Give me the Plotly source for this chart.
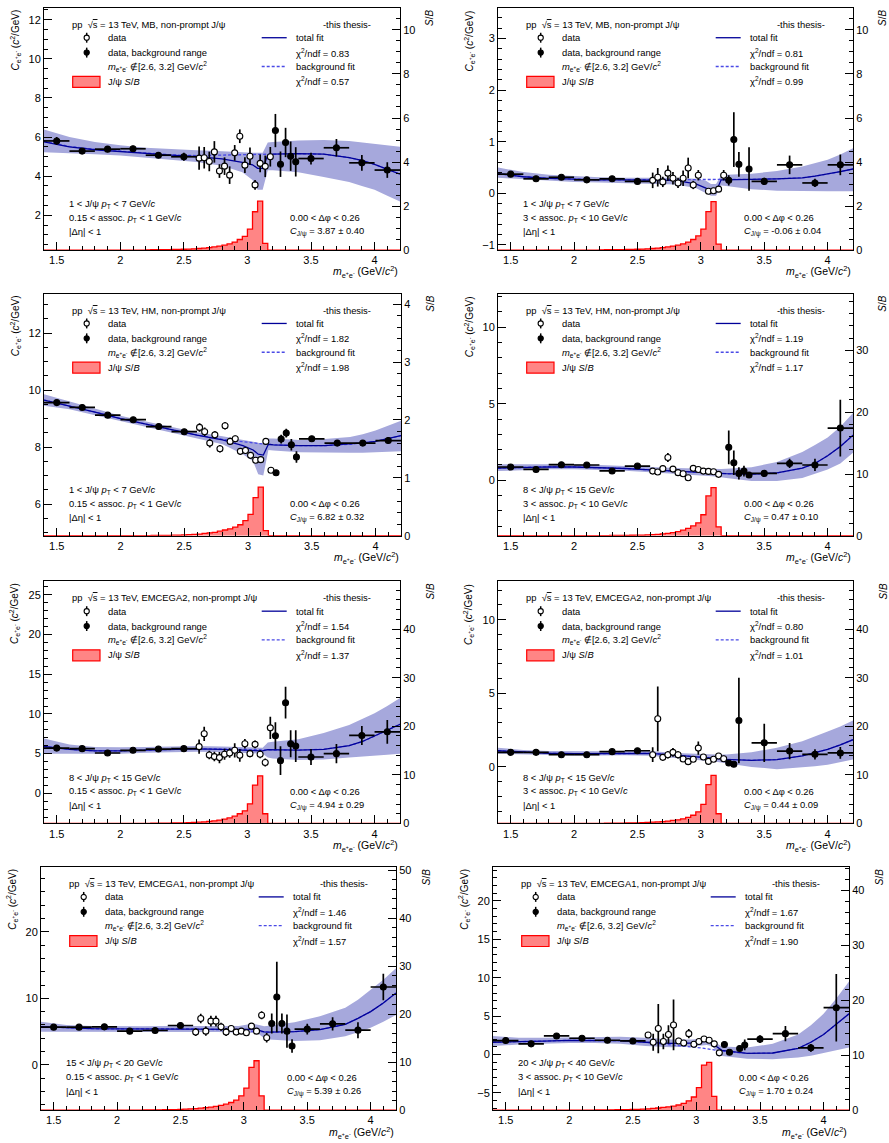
import plotly.graph_objects as go

W, H = 889, 1143
FONT = "Liberation Sans, Arial, Helvetica, sans-serif"

# ---------------------------------------------------------------- binning
# invariant-mass bin centres and half widths (GeV/c^2)
MASS = [1.5, 1.7, 1.9, 2.1, 2.3, 2.5,
        2.62, 2.66, 2.70, 2.74, 2.78, 2.82, 2.86, 2.90, 2.94, 2.98,
        3.02, 3.06, 3.10, 3.14, 3.18, 3.22, 3.26, 3.30, 3.34, 3.38,
        3.5, 3.7, 3.9, 4.1]
MASS_HALF = [0.1, 0.1, 0.1, 0.1, 0.1, 0.1,
             0.02, 0.02, 0.02, 0.02, 0.02, 0.02, 0.02, 0.02, 0.02, 0.02,
             0.02, 0.02, 0.02, 0.02, 0.02, 0.02, 0.02, 0.02, 0.02, 0.02,
             0.1, 0.1, 0.1, 0.1]
SIGNAL_WINDOW = (2.6, 3.2)

# mass points at which the fit functions are sampled
KNOT_M = [1.4, 1.6, 1.8, 2.0, 2.2, 2.4, 2.6, 2.8, 2.96, 3.04, 3.08, 3.12,
          3.16, 3.2, 3.4, 3.6, 3.8, 3.9, 4.0, 4.1, 4.2]

# S/B histogram: lower bin edges, fixed width
SB_BIN_LO = [2.20, 2.24, 2.28, 2.32, 2.36, 2.40, 2.44, 2.48, 2.52, 2.56, 2.60, 2.64,
             2.68, 2.72, 2.76, 2.80, 2.84, 2.88, 2.92, 2.96, 3.00, 3.04, 3.08, 3.12]
SB_BIN_W = 0.04

# ---------------------------------------------------------------- MB, low assoc pT
P1_C = [5.80, 5.28, 5.38, 5.40, 5.07, 4.99, 4.92, 4.94, 4.75, 5.24, 4.26, 4.51, 4.05, 5.19, 6.04,
        4.56, 5.02, 3.55, 4.65, 4.50, 4.99, 6.33, 4.61, 5.72, 5.02, 4.73, 4.90, 5.45, 4.68, 4.31]
P1_ERR = [0.20, 0.15, 0.15, 0.15, 0.15, 0.20, 0.60, 0.55, 0.50, 0.55, 0.35, 0.45, 0.45, 0.40, 0.35,
          0.40, 0.45, 0.25, 0.45, 0.55, 0.50, 0.85, 0.65, 0.75, 0.75, 0.75, 0.30, 0.45, 0.40, 0.40]
P1_FIT = [5.75, 5.50, 5.35, 5.25, 5.15, 5.07, 5.00, 4.88, 4.70, 4.58, 4.40, 4.40, 5.08, 5.12, 5.15,
          5.12, 4.95, 4.80, 4.60, 4.35, 4.10]
P1_BKG = [5.78, 5.52, 5.37, 5.27, 5.17, 5.09, 5.05, 5.08, 5.10, 5.11, 5.12, 5.12, 5.13, 5.14, 5.15,
          5.12, 4.95, 4.80, 4.60, 4.35, 4.10]
P1_HI = [6.38, 6.00, 5.75, 5.58, 5.45, 5.37, 5.32, 5.27, 5.20, 5.20, 5.20, 5.20, 5.72, 5.75, 5.82,
         5.85, 5.80, 5.72, 5.65, 5.55, 5.50]
P1_LO = [5.22, 5.18, 5.12, 5.05, 4.95, 4.85, 4.72, 4.53, 4.20, 3.80, 3.30, 3.30, 4.30, 4.30, 4.20,
         3.95, 3.70, 3.50, 3.30, 3.00, 2.70]
P1_SB = [0.010, 0.012, 0.015, 0.018, 0.020, 0.025, 0.030, 0.035, 0.045, 0.055, 0.07, 0.09,
         0.11, 0.14, 0.18, 0.22, 0.28, 0.36, 0.48, 0.62, 0.95, 1.74, 2.22, 0.30]

# ---------------------------------------------------------------- MB, high assoc pT
P2_C = [0.37, 0.28, 0.31, 0.26, 0.28, 0.23, 0.25, 0.31, 0.22, 0.39, 0.29, 0.20, 0.29, 0.49, 0.16,
        0.35, None, 0.04, 0.05, 0.08, 0.35, 0.25, 1.04, 0.56, None, 0.47, 0.23, 0.55, 0.20, 0.55]
P2_ERR = [0.05, 0.04, 0.04, 0.04, 0.04, 0.05, 0.15, 0.18, 0.10, 0.15, 0.12, 0.10, 0.15, 0.20, 0.08,
          0.10, None, 0.04, 0.04, 0.05, 0.10, 0.10, 0.53, 0.24, None, 0.42, 0.07, 0.18, 0.08, 0.20]
P2_FIT = [0.38, 0.32, 0.29, 0.27, 0.26, 0.26, 0.26, 0.25, 0.18, 0.10, 0.03, 0.03, 0.26, 0.26, 0.27,
          0.28, 0.30, 0.33, 0.37, 0.42, 0.47]
P2_BKG = [0.38, 0.32, 0.29, 0.27, 0.26, 0.26, 0.26, 0.26, 0.27, 0.27, 0.27, 0.27, 0.27, 0.27, 0.27,
          0.28, 0.30, 0.33, 0.37, 0.42, 0.47]
P2_HI = [0.50, 0.41, 0.36, 0.33, 0.31, 0.30, 0.30, 0.30, 0.28, 0.24, 0.18, 0.18, 0.35, 0.36, 0.38,
         0.43, 0.52, 0.58, 0.65, 0.75, 0.87]
P2_LO = [0.30, 0.27, 0.24, 0.22, 0.21, 0.20, 0.19, 0.17, 0.10, 0.00, -0.05, -0.05, 0.15, 0.14, 0.08,
         0.05, 0.04, 0.04, 0.04, 0.04, 0.04]
P2_SB = [0.010, 0.012, 0.015, 0.018, 0.020, 0.025, 0.030, 0.035, 0.045, 0.055, 0.07, 0.09,
         0.11, 0.14, 0.18, 0.22, 0.28, 0.36, 0.48, 0.64, 0.95, 1.75, 2.20, 0.27]

# ---------------------------------------------------------------- HM, low assoc pT
P3_C = [9.56, 9.39, 9.12, 8.96, 8.72, 8.54, 8.69, 8.54, 8.14, 8.43, 7.94, 8.75, 8.20, 8.29, 7.85,
        7.88, 7.71, 7.54, 7.56, 8.20, 7.19, 7.10, 8.28, 8.49, 8.08, 7.65, 8.29, 8.14, 8.14, 8.23]
P3_ERR = [0.07, 0.07, 0.07, 0.07, 0.07, 0.08, 0.15, 0.15, 0.15, 0.13, 0.13, 0.13, 0.13, 0.12, 0.12,
          0.12, 0.12, 0.10, 0.10, 0.10, 0.10, 0.10, 0.15, 0.15, 0.20, 0.20, 0.07, 0.10, 0.10, 0.12]
P3_FIT = [9.65, 9.45, 9.23, 9.00, 8.80, 8.60, 8.42, 8.25, 8.05, 7.90, 7.75, 7.72, 8.10, 8.08, 8.05,
          8.05, 8.10, 8.15, 8.20, 8.30, 8.40]
P3_BKG = [9.65, 9.45, 9.23, 9.00, 8.80, 8.60, 8.42, 8.27, 8.18, 8.14, 8.12, 8.11, 8.10, 8.08, 8.05,
          8.05, 8.10, 8.15, 8.20, 8.30, 8.40]
P3_HI = [9.85, 9.60, 9.35, 9.10, 8.90, 8.70, 8.52, 8.38, 8.25, 8.20, 8.15, 8.12, 8.30, 8.30, 8.25,
         8.28, 8.35, 8.45, 8.58, 8.75, 8.92]
P3_LO = [9.45, 9.33, 9.12, 8.92, 8.72, 8.52, 8.32, 8.10, 7.75, 7.50, 7.05, 7.00, 7.90, 7.88, 7.82,
         7.80, 7.80, 7.80, 7.82, 7.83, 7.85]
P3_SB = [0.004, 0.005, 0.006, 0.007, 0.008, 0.010, 0.012, 0.015, 0.020, 0.025, 0.03, 0.04,
         0.05, 0.06, 0.08, 0.10, 0.12, 0.15, 0.19, 0.26, 0.37, 0.66, 0.84, 0.09]

# ---------------------------------------------------------------- HM, high assoc pT
P4_C = [0.87, 0.71, 1.02, 1.00, 0.61, 0.93, 0.60, 0.54, 0.76, 1.49, 0.73, 0.50, 0.43, 0.17, 0.78,
        0.71, 0.60, 0.58, 0.56, 0.39, None, 2.15, 1.15, 0.45, 0.60, 0.35, 0.45, 1.10, 1.00, 3.41]
P4_ERR = [0.05, 0.05, 0.06, 0.06, 0.06, 0.07, 0.12, 0.15, 0.20, 0.30, 0.15, 0.10, 0.08, 0.06, 0.10,
          0.08, 0.08, 0.07, 0.07, 0.07, None, 1.10, 0.80, 0.40, 0.35, 0.20, 0.15, 0.30, 0.40, 1.85]
P4_FIT = [0.80, 0.85, 0.88, 0.87, 0.83, 0.77, 0.68, 0.60, 0.54, 0.50, 0.48, 0.47, 0.45, 0.43, 0.40,
          0.48, 0.80, 1.10, 1.60, 2.20, 2.95]
P4_BKG = [0.80, 0.85, 0.88, 0.87, 0.83, 0.77, 0.68, 0.60, 0.54, 0.50, 0.48, 0.47, 0.45, 0.43, 0.40,
          0.48, 0.80, 1.10, 1.60, 2.20, 2.95]
P4_HI = [1.05, 1.05, 1.06, 1.05, 1.00, 0.95, 0.87, 0.80, 0.75, 0.72, 0.72, 0.72, 0.73, 0.75, 0.85,
         1.20, 1.85, 2.30, 2.80, 3.50, 4.40]
P4_LO = [0.60, 0.68, 0.72, 0.72, 0.68, 0.62, 0.52, 0.42, 0.35, 0.30, 0.28, 0.25, 0.20, 0.15, -0.05,
         -0.05, 0.15, 0.40, 0.70, 1.10, 1.80]
P4_SB = [0.03, 0.035, 0.04, 0.05, 0.06, 0.07, 0.08, 0.10, 0.12, 0.15, 0.19, 0.24,
         0.30, 0.38, 0.50, 0.68, 0.90, 1.20, 1.60, 2.10, 3.40, 6.45, 7.80, 1.45]

# ---------------------------------------------------------------- EMCEGA2, low assoc pT
P5_C = [5.70, 5.63, 5.08, 5.42, 5.58, 5.63, 5.88, 7.50, 4.83, 4.63, 4.50, 4.92, 5.08, 5.42, 4.79,
        6.25, 5.00, 6.17, 4.92, 3.88, 8.25, 7.25, 4.12, 11.42, 6.25, 5.96, 4.58, 5.00, 7.29, 7.75]
P5_ERR = [0.30, 0.25, 0.25, 0.25, 0.25, 0.30, 0.90, 0.90, 0.55, 0.60, 0.70, 0.70, 0.60, 0.90, 0.80,
          0.60, 0.45, 0.50, 0.50, 0.50, 1.40, 1.70, 1.80, 2.00, 1.70, 2.00, 1.00, 1.20, 1.20, 1.50]
P5_FIT = [5.90, 5.55, 5.35, 5.35, 5.45, 5.55, 5.60, 5.55, 5.45, 5.40, 5.35, 5.35, 5.50, 5.50, 5.45,
          5.55, 6.00, 6.50, 7.20, 7.90, 8.70]
P5_BKG = [5.90, 5.55, 5.35, 5.35, 5.45, 5.55, 5.60, 5.58, 5.50, 5.47, 5.46, 5.46, 5.46, 5.46, 5.45,
          5.55, 6.00, 6.50, 7.20, 7.90, 8.70]
P5_HI = [6.90, 6.15, 5.85, 5.80, 5.85, 5.90, 5.95, 5.90, 5.80, 5.75, 5.75, 5.75, 6.40, 6.50, 6.80,
         7.60, 8.60, 9.30, 10.10, 11.00, 12.00]
P5_LO = [5.00, 5.00, 4.95, 5.00, 5.10, 5.20, 5.25, 5.20, 5.10, 5.05, 5.00, 5.00, 4.50, 4.40, 4.20,
         4.25, 4.50, 4.60, 4.70, 4.85, 5.00]
P5_SB = [0.04, 0.05, 0.06, 0.07, 0.08, 0.10, 0.12, 0.14, 0.17, 0.21, 0.26, 0.33,
         0.42, 0.55, 0.70, 0.90, 1.15, 1.50, 2.00, 2.60, 4.05, 7.90, 9.80, 2.00]

# ---------------------------------------------------------------- EMCEGA2, high assoc pT
P6_C = [0.99, 0.99, 0.83, 0.83, 1.04, 1.10, 0.83, 3.27, 0.65, 0.83, 0.99, 0.83, 0.54, 0.36, 0.52,
        1.28, 0.68, 0.38, 0.52, 0.74, 0.56, 0.27, 0.18, 3.15, None, None, 1.64, 1.08, 0.86, 0.95]
P6_ERR = [0.10, 0.08, 0.08, 0.08, 0.08, 0.10, 0.50, 2.20, 0.20, 0.25, 0.30, 0.25, 0.20, 0.15, 0.15,
          0.45, 0.15, 0.10, 0.10, 0.15, 0.20, 0.15, 0.12, 2.90, None, None, 1.30, 0.55, 0.35, 0.40]
P6_FIT = [1.10, 1.00, 0.93, 0.90, 0.92, 0.95, 0.92, 0.80, 0.70, 0.65, 0.60, 0.58, 0.55, 0.52, 0.45,
          0.50, 0.75, 0.95, 1.20, 1.50, 1.85]
P6_BKG = [1.10, 1.00, 0.93, 0.90, 0.92, 0.95, 0.92, 0.80, 0.70, 0.65, 0.60, 0.58, 0.55, 0.52, 0.45,
          0.50, 0.75, 0.95, 1.20, 1.50, 1.85]
P6_HI = [1.30, 1.15, 1.08, 1.05, 1.07, 1.10, 1.08, 0.95, 0.88, 0.85, 0.85, 0.85, 0.85, 0.85, 1.00,
         1.30, 1.75, 2.05, 2.40, 2.75, 3.15]
P6_LO = [0.90, 0.85, 0.80, 0.78, 0.78, 0.80, 0.76, 0.62, 0.50, 0.45, 0.40, 0.35, 0.30, 0.25, 0.00,
         -0.15, -0.05, 0.05, 0.15, 0.30, 0.50]
P6_SB = [0.04, 0.05, 0.06, 0.07, 0.08, 0.10, 0.12, 0.14, 0.17, 0.21, 0.26, 0.32,
         0.40, 0.50, 0.62, 0.75, 0.95, 1.25, 1.70, 2.40, 3.95, 8.00, 9.90, 2.00]

# ---------------------------------------------------------------- EMCEGA1, low assoc pT
P7_C = [5.67, 5.67, 5.72, 5.07, 5.17, 5.92, 4.93, 6.97, 5.07, 6.57, 6.57, 5.72, 4.93, 5.47, 4.93,
        5.07, 4.83, 5.82, 5.07, 7.46, 4.08, 6.22, 10.20, 6.22, 5.07, 2.84, 5.37, 6.17, 5.22, 11.70]
P7_ERR = [0.30, 0.25, 0.25, 0.25, 0.30, 0.40, 0.60, 0.70, 0.70, 0.80, 0.80, 0.60, 0.60, 0.50, 0.40,
          0.40, 0.40, 0.30, 0.30, 0.60, 0.70, 1.50, 5.30, 1.50, 2.50, 1.00, 0.80, 1.00, 1.20, 2.00]
P7_FIT = [5.75, 5.55, 5.45, 5.40, 5.40, 5.45, 5.45, 5.40, 5.35, 5.40, 5.35, 5.20, 4.95, 4.93, 5.00,
          5.30, 6.10, 7.00, 8.00, 9.30, 10.80]
P7_BKG = [5.75, 5.55, 5.45, 5.40, 5.40, 5.43, 5.40, 5.30, 5.20, 5.10, 5.05, 5.00, 4.97, 4.93, 5.00,
          5.30, 6.10, 7.00, 8.00, 9.30, 10.80]
P7_HI = [6.50, 6.00, 5.85, 5.80, 5.80, 5.85, 5.85, 5.80, 5.85, 6.10, 6.15, 6.00, 5.80, 5.90, 6.40,
         7.30, 8.60, 9.80, 11.30, 12.80, 14.50]
P7_LO = [5.00, 5.00, 4.98, 4.95, 4.95, 5.00, 5.00, 4.95, 4.85, 4.85, 4.80, 4.60, 4.00, 3.80, 3.60,
         3.70, 4.30, 4.90, 5.60, 6.50, 7.50]
P7_SB = [0.05, 0.06, 0.07, 0.08, 0.10, 0.12, 0.14, 0.17, 0.21, 0.26, 0.33, 0.42,
         0.52, 0.65, 0.80, 1.00, 1.25, 1.60, 2.10, 3.00, 4.60, 8.90, 10.30, 3.00]

# ---------------------------------------------------------------- EMCEGA1, high assoc pT
P8_C = [1.82, 1.39, 2.42, 2.12, 1.86, 1.77, 2.55, 1.60, 3.38, 1.69, 2.60, 3.85, 1.77, 1.50, 2.72,
        1.34, 1.69, 2.03, 1.86, 1.39, 0.22, 1.30, 0.30, None, 0.78, 1.25, 2.00, 2.72, 0.87, 6.10]
P8_ERR = [0.30, 0.25, 0.30, 0.25, 0.25, 0.25, 0.40, 1.10, 3.20, 1.00, 1.20, 3.30, 0.40, 0.40, 0.60,
          0.40, 0.30, 0.30, 0.30, 0.30, 0.10, 0.40, 0.20, None, 0.30, 0.70, 0.50, 1.00, 0.50, 4.40]
P8_FIT = [1.60, 1.65, 1.75, 1.85, 1.85, 1.80, 1.60, 1.45, 1.50, 1.70, 1.75, 1.50, 1.00, 0.55, 0.15,
          0.20, 0.80, 1.60, 2.60, 3.90, 5.30]
P8_BKG = [1.60, 1.65, 1.75, 1.85, 1.85, 1.80, 1.60, 1.30, 1.00, 0.85, 0.75, 0.65, 0.55, 0.45, 0.15,
          0.20, 0.80, 1.60, 2.60, 3.90, 5.30]
P8_HI = [2.40, 2.20, 2.20, 2.25, 2.30, 2.30, 2.20, 1.95, 1.95, 2.10, 2.10, 1.90, 1.50, 1.05, 0.90,
         1.40, 2.60, 3.80, 5.30, 7.30, 9.50]
P8_LO = [1.10, 1.30, 1.40, 1.50, 1.50, 1.40, 1.10, 0.95, 1.05, 1.20, 1.25, 1.10, 0.50, -0.20, -0.55,
         -0.60, -0.40, -0.15, 0.20, 0.50, 0.90]
P8_SB = [0.04, 0.05, 0.06, 0.07, 0.08, 0.10, 0.12, 0.14, 0.17, 0.21, 0.26, 0.32,
         0.40, 0.50, 0.62, 0.75, 0.95, 1.25, 1.70, 2.40, 4.10, 8.20, 8.70, 2.50]

# ---------------------------------------------------------------- labels
TRIGGERS = ["MB", "MB", "HM", "HM", "EMCEGA2", "EMCEGA2", "EMCEGA1", "EMCEGA1"]
JPSI_PT = [(1, 7), (1, 7), (1, 7), (8, 15), (8, 15), (8, 15), (15, 20), (20, 40)]
ASSOC_PT = ["0.15", "3", "0.15", "3", "0.15", "3", "0.15", "3"]
ASSOC_PT_MAX = ["1", "10", "1", "10", "1", "10", "1", "10"]
CHI2_TOTAL = ["0.83", "0.81", "1.82", "1.19", "1.54", "0.80", "1.46", "1.67"]
CHI2_BKG = ["0.57", "0.99", "1.98", "1.17", "1.37", "1.01", "1.57", "1.90"]
C_JPSI = ["3.87 ± 0.40", "-0.06 ± 0.04", "6.82 ± 0.32", "0.47 ± 0.10",
          "4.94 ± 0.29", "0.44 ± 0.09", "5.39 ± 0.26", "1.70 ± 0.24"]

# ---------------------------------------------------------------- layout of the pads (pixels)
FRAMES = [(44, 5, 400, 249), (498, 5, 853, 249),
          (44, 293, 401, 537), (498, 293, 853, 537),
          (44, 583, 400, 827), (498, 583, 853, 827),
          (41, 871, 396, 1116), (493, 871, 849, 1116)]
LEFT_RANGE = [(0.22, 12.6), (-1.1, 3.59), (4.89, 13.38), (-3.62, 12.18),
              (-3.8, 26.7), (-3.84, 12.6), (-6.8, 29.7), (-7.25, 24.4)]
LEFT_TICKS = [(2, 0.5), (1, 0.2), (2, 0.5), (5, 1), (5, 1), (5, 1), (10, 2), (5, 1)]
RIGHT_RANGE = [(0, 11), (0, 11), (0, 4.18), (0, 39.2), (0, 49.8), (0, 49.8), (0, 50.6), (0, 44.2)]
RIGHT_TICKS = [(2, 0.5), (2, 0.5), (1, 0.2), (10, 2), (10, 2), (10, 2), (10, 2), (10, 2)]

PANELS = [
    dict(c=P1_C, err=P1_ERR, fit=P1_FIT, bkg=P1_BKG, hi=P1_HI, lo=P1_LO, sb=P1_SB),
    dict(c=P2_C, err=P2_ERR, fit=P2_FIT, bkg=P2_BKG, hi=P2_HI, lo=P2_LO, sb=P2_SB),
    dict(c=P3_C, err=P3_ERR, fit=P3_FIT, bkg=P3_BKG, hi=P3_HI, lo=P3_LO, sb=P3_SB),
    dict(c=P4_C, err=P4_ERR, fit=P4_FIT, bkg=P4_BKG, hi=P4_HI, lo=P4_LO, sb=P4_SB),
    dict(c=P5_C, err=P5_ERR, fit=P5_FIT, bkg=P5_BKG, hi=P5_HI, lo=P5_LO, sb=P5_SB),
    dict(c=P6_C, err=P6_ERR, fit=P6_FIT, bkg=P6_BKG, hi=P6_HI, lo=P6_LO, sb=P6_SB),
    dict(c=P7_C, err=P7_ERR, fit=P7_FIT, bkg=P7_BKG, hi=P7_HI, lo=P7_LO, sb=P7_SB),
    dict(c=P8_C, err=P8_ERR, fit=P8_FIT, bkg=P8_BKG, hi=P8_HI, lo=P8_LO, sb=P8_SB),
]

BAND = "#a6a8dc"
FIT_COL = "#000099"
BKG_COL = "#4a4ae6"
HIST_LINE = "#ff0000"
HIST_FILL = "rgba(255,0,0,0.48)"
EE = "e<sup>+</sup>e<sup>-</sup>"


def px(x):
    return x / W


def py(y):
    return 1 - y / H


fig = go.Figure()
shapes, annotations = [], []
layout = {}

for k, p in enumerate(PANELS):
    i = k + 1
    xa = "x" if i == 1 else f"x{i}"
    yl = "y" if i == 1 else f"y{2 * i - 1}"
    yr = f"y{2 * i}"
    fx0, fy0, fx1, fy1 = FRAMES[k]

    # fit uncertainty band
    fig.add_trace(go.Scatter(x=KNOT_M, y=p["lo"], mode="lines", line=dict(width=0),
                             xaxis=xa, yaxis=yl, showlegend=False, hoverinfo="skip"))
    fig.add_trace(go.Scatter(x=KNOT_M, y=p["hi"], mode="lines", line=dict(width=0),
                             fill="tonexty", fillcolor=BAND,
                             xaxis=xa, yaxis=yl, showlegend=False, hoverinfo="skip"))
    # background and total fits
    fig.add_trace(go.Scatter(x=KNOT_M, y=p["bkg"], mode="lines",
                             line=dict(color=BKG_COL, width=1.3, dash="3px,2px"),
                             xaxis=xa, yaxis=yl, showlegend=False))
    fig.add_trace(go.Scatter(x=KNOT_M, y=p["fit"], mode="lines",
                             line=dict(color=FIT_COL, width=1.3),
                             xaxis=xa, yaxis=yl, showlegend=False))

    # data points: open inside the signal window, filled outside
    for inside in (True, False):
        xs, ys, ex, ey = [], [], [], []
        for m, hw, c, e in zip(MASS, MASS_HALF, p["c"], p["err"]):
            if c is None:
                continue
            if (SIGNAL_WINDOW[0] < m < SIGNAL_WINDOW[1]) != inside:
                continue
            xs.append(m)
            ys.append(c)
            ex.append(hw)
            ey.append(e)
        fig.add_trace(go.Scatter(
            x=xs, y=ys, mode="markers",
            marker=dict(symbol="circle", size=6,
                        color="white" if inside else "black",
                        line=dict(color="black", width=1.1)),
            error_y=dict(type="data", array=ey, thickness=1.7, width=0, color="black"),
            error_x=dict(type="data", array=ex, thickness=1.7, width=0, color="black"),
            xaxis=xa, yaxis=yl, showlegend=False))

    # S/B histogram on the right-hand axis
    hx = [1.4] + SB_BIN_LO + [SB_BIN_LO[-1] + SB_BIN_W, 4.2]
    hy = [0] + p["sb"] + [0, 0]
    fig.add_trace(go.Scatter(x=hx, y=hy, mode="lines", line_shape="hv",
                             line=dict(color=HIST_LINE, width=1.3),
                             fill="tozeroy", fillcolor=HIST_FILL,
                             xaxis=xa, yaxis=yr, showlegend=False))

    # axes
    common = dict(ticks="inside", ticklen=8, tickwidth=1, tickcolor="black",
                  showline=True, linecolor="black", linewidth=1,
                  showgrid=False, zeroline=False,
                  tickfont=dict(family=FONT, size=11, color="black"))
    xkey = "xaxis" if i == 1 else f"xaxis{i}"
    ylkey = "yaxis" if i == 1 else f"yaxis{2 * i - 1}"
    yrkey = f"yaxis{2 * i}"
    layout[xkey] = dict(common, domain=[px(fx0), px(fx1)], range=[1.4, 4.2],
                        anchor=yl, tick0=0, dtick=0.5, mirror=True,
                        minor=dict(dtick=0.1, ticks="inside", ticklen=4, tickcolor="black"))
    ld, lm = LEFT_TICKS[k]
    layout[ylkey] = dict(common, domain=[py(fy1), py(fy0)], range=list(LEFT_RANGE[k]),
                         anchor=xa, side="left", tick0=0, dtick=ld,
                         minor=dict(dtick=lm, ticks="inside", ticklen=4, tickcolor="black"))
    rd, rm = RIGHT_TICKS[k]
    layout[yrkey] = dict(common, overlaying=yl, anchor=xa, side="right",
                         range=list(RIGHT_RANGE[k]), tick0=0, dtick=rd,
                         minor=dict(dtick=rm, ticks="inside", ticklen=4, tickcolor="black"))

    # axis titles
    annotations.append(dict(text=f"<i>C</i><sub>{EE}</sub> (<i>c</i><sup>2</sup>/GeV)",
                            x=px(fx0 - 29), y=py(fy0), xanchor="center", yanchor="top",
                            textangle=-90, font=dict(size=10)))
    annotations.append(dict(text="<i>S</i>/<i>B</i>", x=px(fx1 + 30), y=py(fy0),
                            xanchor="center", yanchor="top", textangle=-90, font=dict(size=10)))
    annotations.append(dict(text=f"<i>m</i><sub>{EE}</sub> (GeV/<i>c</i><sup>2</sup>)",
                            x=px(fx1), y=py(fy1 + 22.5), xanchor="right", yanchor="middle",
                            font=dict(size=10.5)))

    def txt(s, dx, dy, anchor="left", size=9.4):
        annotations.append(dict(text=s, x=px(fx0 + dx), y=py(fy0 + dy),
                                xanchor=anchor, yanchor="middle", font=dict(size=size)))

    txt(f"pp  √<span style='text-decoration:overline'>s</span> = 13 TeV, {TRIGGERS[k]}, non-prompt J/ψ", 26, 16.7)
    txt("-this thesis-", 303, 16.7, anchor="center")
    txt("data", 62, 30)
    txt("data, background range", 62, 45)
    txt(f"<i>m</i><sub>{EE}</sub> ∉[2.6, 3.2] GeV/<i>c</i><sup>2</sup>", 62, 59)
    txt("J/ψ <i>S</i>/<i>B</i>", 62, 74)
    txt("total fit", 249.7, 30)
    txt(f"χ<sup>2</sup>/ndf = {CHI2_TOTAL[k]}", 249.7, 45)
    txt("background fit", 249.7, 59)
    txt(f"χ<sup>2</sup>/ndf = {CHI2_BKG[k]}", 249.7, 74)
    lo_pt, hi_pt = JPSI_PT[k]
    txt(f"{lo_pt} &lt; J/ψ <i>p</i><sub>T</sub> &lt; {hi_pt} GeV/<i>c</i>", 22.7, 197.7)
    txt(f"{ASSOC_PT[k]} &lt; assoc. <i>p</i><sub>T</sub> &lt; {ASSOC_PT_MAX[k]} GeV/<i>c</i>", 22.7, 211.7)
    txt("|Δη| &lt; 1", 22.7, 225.7)
    txt("0.00 &lt; Δφ &lt; 0.26", 244.3, 211.7)
    txt(f"<i>C</i><sub>J/ψ</sub> = {C_JPSI[k]}", 244.3, 225.7)

    # legend symbols
    mx = fx0 + 42.7
    for row, fill in ((30, "white"), (45, "black")):
        cy = fy0 + row
        shapes.append(dict(type="line", xref="paper", yref="paper",
                           x0=px(mx), x1=px(mx), y0=py(cy - 5), y1=py(cy + 5),
                           line=dict(color="black", width=1.5)))
        shapes.append(dict(type="circle", xref="paper", yref="paper",
                           x0=px(mx - 2.6), x1=px(mx + 2.6), y0=py(cy + 2.6), y1=py(cy - 2.6),
                           fillcolor=fill, line=dict(color="black", width=1.1)))
    shapes.append(dict(type="rect", xref="paper", yref="paper",
                       x0=px(fx0 + 28.7), x1=px(fx0 + 56), y0=py(fy0 + 80), y1=py(fy0 + 69),
                       fillcolor=HIST_FILL, line=dict(color=HIST_LINE, width=1.2)))
    shapes.append(dict(type="line", xref="paper", yref="paper",
                       x0=px(fx0 + 217.7), x1=px(fx0 + 242.7), y0=py(fy0 + 30), y1=py(fy0 + 30),
                       line=dict(color=FIT_COL, width=1.3)))
    shapes.append(dict(type="line", xref="paper", yref="paper",
                       x0=px(fx0 + 217.7), x1=px(fx0 + 242.7), y0=py(fy0 + 59), y1=py(fy0 + 59),
                       line=dict(color=BKG_COL, width=1.3, dash="3px,2px")))

for a in annotations:
    a.update(xref="paper", yref="paper", showarrow=False)

fig.update_layout(
    width=W, height=H, autosize=False,
    margin=dict(l=0, r=0, t=0, b=0),
    paper_bgcolor="white", plot_bgcolor="white",
    font=dict(family=FONT, color="black", size=10),
    showlegend=False,
    shapes=shapes, annotations=annotations,
    **layout,
)

fig.write_html("out.html")
